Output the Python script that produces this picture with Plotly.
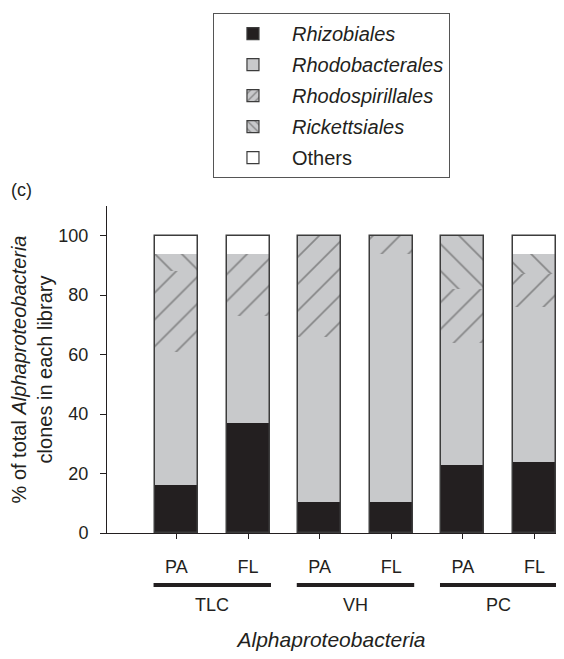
import numpy as np
import plotly.graph_objects as go

# ---------------- data ----------------
fractions = ["PA", "FL", "PA", "FL", "PA", "FL"]
sites = ["TLC", "TLC", "VH", "VH", "PC", "PC"]
rhizobiales = [16, 37, 10.5, 10.5, 23, 24]
rhodobacterales = [45, 36, 55.5, 83.5, 41, 52]
rhodospirillales = [27, 21, 34, 6, 18, 11]
rickettsiales = [6, 0, 0, 0, 18, 7]
others = [6, 6, 0, 0, 0, 6]
y_ticks = [0, 20, 40, 60, 80, 100]

series = [
    ("Rhizobiales", rhizobiales, True),
    ("Rhodobacterales", rhodobacterales, True),
    ("Rhodospirillales", rhodospirillales, True),
    ("Rickettsiales", rickettsiales, True),
    ("Others", others, False),
]

# ---------------- styles ----------------
INK = "#231f20"
EDGE = "#3c3c3c"
GREY = "#c8c9cb"
FONT = "Liberation Sans"


def style(name, psize):
    if name == "Rhizobiales":
        return dict(color=INK)
    if name == "Rhodobacterales":
        return dict(color=GREY)
    if name == "Rhodospirillales":
        return dict(color=GREY, pattern=dict(shape="/", fgcolor="#444444", bgcolor=GREY,
                                             size=psize, solidity=0.09 * 19 / psize))
    if name == "Rickettsiales":
        return dict(color=GREY, pattern=dict(shape="\\", fgcolor="#444444", bgcolor=GREY,
                                             size=psize, solidity=0.09 * 19 / psize))
    return dict(color="white")


x = np.arange(len(fractions))
fig = go.Figure()

base = np.zeros(len(fractions))
for name, vals, italic in series:
    vals = np.array(vals, dtype=float)
    fig.add_trace(go.Bar(
        x=x, y=vals, base=base, width=0.6, name=name, showlegend=False,
        marker=dict(**style(name, 19), line=dict(width=0)),
        hoverinfo="skip",
    ))
    base = base + vals

# outline around each whole bar
fig.add_trace(go.Bar(
    x=x, y=base, base=np.zeros(len(fractions)), width=0.6, showlegend=False,
    marker=dict(color="rgba(0,0,0,0)", line=dict(width=1.5, color=EDGE)),
    hoverinfo="skip",
))

# legend-only entries
for i, (name, vals, italic) in enumerate(series):
    label = f"<i>{name}</i>" if italic else name
    fig.add_trace(go.Bar(
        x=[None], y=[None], name=label, legendgroup=f"g{i}",
        marker=dict(**style(name, 7), line=dict(width=1.2, color=EDGE)),
    ))

# group labels and underlines
groups = []
for s in sites:
    if s not in groups:
        groups.append(s)
for g in groups:
    idx = [i for i, s in enumerate(sites) if s == g]
    mid = float(np.mean(idx))
    fig.add_shape(type="line", xref="x", yref="paper", x0=mid - 0.82, x1=mid + 0.82,
                  y0=-0.159, y1=-0.159, line=dict(color=INK, width=4))
    fig.add_annotation(x=mid, xref="x", y=-0.22, yref="paper", text=g, showarrow=False,
                       font=dict(family=FONT, size=18, color=INK), yanchor="middle")

fig.add_annotation(x=-0.19, xref="paper", y=1.049, yref="paper", text="(c)", showarrow=False,
                   xanchor="center", yanchor="middle", font=dict(family=FONT, size=18, color=INK))

# the page body adds an 8px offset, so the figure is drawn smaller to stay inside the window
fig.update_layout(
    width=548, height=643,
    margin=dict(l=99, r=0, t=198, b=118, autoexpand=False),
    paper_bgcolor="white", plot_bgcolor="white",
    barmode="overlay", bargap=0,
    font=dict(family=FONT, size=18, color=INK),
    showlegend=True,
    legend=dict(x=0.236, y=1.59, xanchor="left", yanchor="top",
                bordercolor="#555", borderwidth=1, bgcolor="white",
                font=dict(family=FONT, size=20, color=INK),
                traceorder="grouped", tracegroupgap=2, itemwidth=68),
    xaxis=dict(
        tickmode="array", tickvals=x, ticktext=fractions,
        range=[-0.97, 5.3], showline=True, linecolor=INK, linewidth=1,
        ticks="outside", ticklen=5, tickcolor=INK, showgrid=False, zeroline=False,
        tickfont=dict(family=FONT, size=18, color=INK), automargin=False,
        ticklabelstandoff=12,
        title=dict(text="<i>Alphaproteobacteria</i>", font=dict(family=FONT, size=21, color=INK),
                   standoff=57),
    ),
    yaxis=dict(
        range=[0, 110], tickmode="array", tickvals=y_ticks,
        showline=True, linecolor=INK, linewidth=1,
        ticks="outside", ticklen=6, tickcolor=INK, showgrid=False, zeroline=False,
        tickfont=dict(family=FONT, size=18, color=INK), automargin=False,
        ticklabelstandoff=8,
        title=dict(text="% of total <i>Alphaproteobacteria</i><br>clones in each library",
                   font=dict(family=FONT, size=20, color=INK), standoff=1),
    ),
)

fig.write_html("out.html")
